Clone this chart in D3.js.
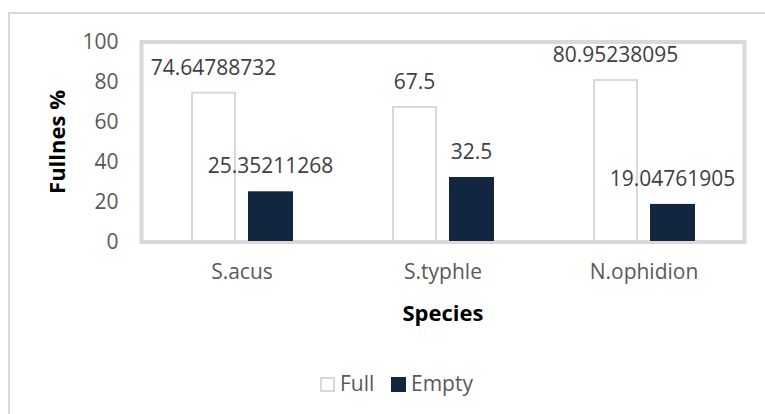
<!DOCTYPE html>
<html>
<head>
<meta charset="utf-8">
<script src="https://cdn.jsdelivr.net/npm/d3@7"></script>
<style>
  body { margin: 0; background: #fff; }
  svg { display: block; font-family: "Open Sans", sans-serif; }
</style>
</head>
<body>
<svg></svg>
<script>
// chart data
let species = ["S.acus", "S.typhle", "N.ophidion"]
let series = ["Full", "Empty"]
let full = [74.64788732, 67.5, 80.95238095]
let empty = [25.35211268, 32.5, 19.04761905]
let yTicks = [0, 20, 40, 60, 80, 100]

let colors = { Full: "#ffffff", Empty: "#13263f" }

let width = 765
let height = 414
let plot = { left: 141.5, right: 744.5, top: 42, bottom: 242 }

let svg = d3.select("svg").attr("width", width).attr("height", height)

// outer chart border
svg.append("rect")
    .attr("x", 9).attr("y", 13)
    .attr("width", 760).attr("height", 420)
    .attr("fill", "none")
    .attr("stroke", "#d9d9d9")
    .attr("stroke-width", 2)

let xScale = d3.scaleBand()
    .domain(species)
    .range([plot.left, plot.right])

let bw = xScale.bandwidth()
let xSub = d3.scaleBand()
    .domain(series)
    .range([bw / 2 - 51, bw / 2 + 51])
    .paddingInner(12 / 57)

let yScale = d3.scaleLinear()
    .domain([0, 100])
    .range([plot.bottom, plot.top])

// plot frame
svg.append("rect")
    .attr("x", plot.left).attr("y", plot.top)
    .attr("width", plot.right - plot.left)
    .attr("height", plot.bottom - plot.top)
    .attr("fill", "none")
    .attr("stroke", "#d9d9d9")
    .attr("stroke-width", 4)

// y axis
let yAxis = d3.axisLeft(yScale).tickValues(yTicks).tickSize(0).tickPadding(23)
let gy = svg.append("g")
    .attr("transform", "translate(" + plot.left + ",0)")
    .call(yAxis)
gy.select(".domain").remove()
gy.selectAll("text")
    .attr("font-family", "Open Sans")
    .attr("font-size", 21)
    .attr("fill", "#595959")

// x axis labels
let xAxis = d3.axisBottom(xScale).tickSize(0).tickPadding(22)
let gx = svg.append("g")
    .attr("transform", "translate(0," + plot.bottom + ")")
    .call(xAxis)
gx.select(".domain").remove()
gx.selectAll("text")
    .attr("font-family", "Open Sans")
    .attr("font-size", 21)
    .attr("fill", "#595959")

let rows = species.map((s, i) => ({ name: s, Full: full[i], Empty: empty[i] }))

let groups = svg.selectAll(".grp")
    .data(rows)
    .enter()
    .append("g")
    .attr("transform", d => "translate(" + xScale(d.name) + ",0)")

series.forEach(key => {
    groups.append("rect")
        .attr("x", xSub(key) + (key == "Full" ? 1 : 0))
        .attr("y", d => yScale(d[key]))
        .attr("width", xSub.bandwidth() - (key == "Full" ? 2 : 0))
        .attr("height", d => plot.bottom - 1 - yScale(d[key]))
        .attr("fill", colors[key])
        .attr("stroke", key == "Full" ? "#d9d9d9" : "none")
        .attr("stroke-width", 2)

    groups.append("text")
        .attr("x", xSub(key) + xSub.bandwidth() / 2)
        .attr("y", d => yScale(d[key]) - 18)
        .attr("text-anchor", "middle")
        .attr("font-size", 21)
        .attr("fill", "#404040")
        .text(d => String(d[key]))
})

// axis titles
svg.append("text")
    .attr("transform", "translate(65," + (plot.top + plot.bottom) / 2 + ") rotate(-90)")
    .attr("text-anchor", "middle")
    .attr("font-size", 22)
    .attr("font-weight", "bold")
    .attr("fill", "#000")
    .text("Fullnes %")

svg.append("text")
    .attr("x", (plot.left + plot.right) / 2)
    .attr("y", 321)
    .attr("text-anchor", "middle")
    .attr("font-size", 22)
    .attr("font-weight", "bold")
    .attr("fill", "#000")
    .text("Species")

// legend
let legendX = [320, 391]
let legend = svg.selectAll(".leg")
    .data(series)
    .enter()
    .append("g")
    .attr("transform", (d, i) => "translate(" + legendX[i] + ",377)")

legend.append("rect")
    .attr("x", d => d == "Full" ? 1 : 0)
    .attr("y", d => d == "Full" ? 1 : 0)
    .attr("width", d => d == "Full" ? 13 : 15)
    .attr("height", d => d == "Full" ? 13 : 15)
    .attr("fill", d => colors[d])
    .attr("stroke", d => d == "Full" ? "#d9d9d9" : "none")
    .attr("stroke-width", 2)

legend.append("text")
    .attr("x", 20)
    .attr("y", 14)
    .attr("font-size", 21)
    .attr("fill", "#595959")
    .text(d => d)
</script>
</body>
</html>
